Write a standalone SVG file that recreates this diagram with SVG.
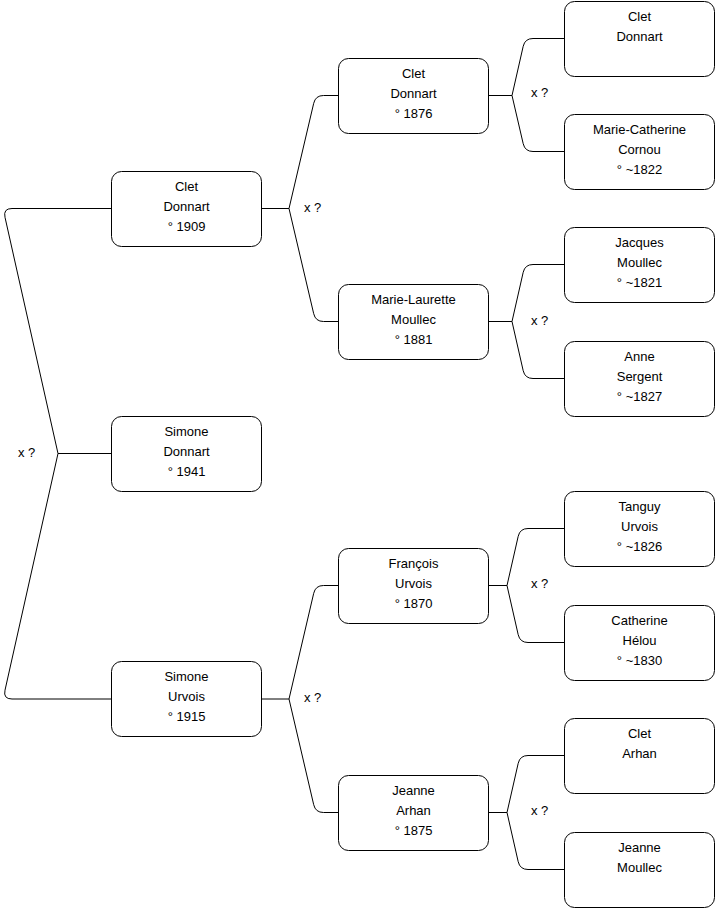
<svg xmlns="http://www.w3.org/2000/svg" width="716" height="908" viewBox="0 0 716 908">
<style>
.box{fill:#fff;stroke:#000;stroke-width:1}
.c{fill:none;stroke:#000;stroke-width:1}
text{font-family:"Liberation Sans",Arial,sans-serif;font-size:13px;fill:#000}
.t{text-anchor:middle}
</style>
<rect width="716" height="908" fill="#fff"/>
<g id="connectors">
<path class="c" d="M111,208.5 H12 Q3,208.5 5,217.3 L58,453.5 L5,690.2 Q3,699 12,699 H111 M58,453.5 H111"/>
<text x="18" y="457">x ?</text>
<path class="c" d="M262,208.5 H289 L313.7,103.3 Q315.5,95.5 323.5,95.5 H338 M289,208.5 L313.7,313.7 Q315.5,321.5 323.5,321.5 H338"/>
<text x="304" y="212">x ?</text>
<path class="c" d="M262,699 H289 L313.7,593.3 Q315.5,585.5 323.5,585.5 H338 M289,699 L313.7,804.7 Q315.5,812.5 323.5,812.5 H338"/>
<text x="304" y="702">x ?</text>
<path class="c" d="M489,95.5 H512 L523.2,46.3 Q525,38.5 533,38.5 H564 M512,95.5 L523.2,143.7 Q525,151.5 533,151.5 H564"/>
<text x="531" y="97">x ?</text>
<path class="c" d="M489,321.5 H512 L523.2,272.3 Q525,264.5 533,264.5 H564 M512,321.5 L523.2,370.7 Q525,378.5 533,378.5 H564"/>
<text x="531" y="325">x ?</text>
<path class="c" d="M489,585.5 H507 L518.2,536.3 Q520,528.5 528,528.5 H564 M507,585.5 L518.2,634.7 Q520,642.5 528,642.5 H564"/>
<text x="531" y="588">x ?</text>
<path class="c" d="M489,812.5 H507 L518.2,763.3 Q520,755.5 528,755.5 H564 M507,812.5 L518.2,861.7 Q520,869.5 528,869.5 H564"/>
<text x="531" y="815">x ?</text>
</g>
<g id="n_clet1909"><rect class="box" x="111.5" y="171.5" width="150" height="75" rx="10"/><text class="t" x="186.5" y="191">Clet</text><text class="t" x="186.5" y="211">Donnart</text><text class="t" x="186.5" y="231">° 1909</text></g>
<g id="n_simone1941"><rect class="box" x="111.5" y="416.5" width="150" height="75" rx="10"/><text class="t" x="186.5" y="436">Simone</text><text class="t" x="186.5" y="456">Donnart</text><text class="t" x="186.5" y="476">° 1941</text></g>
<g id="n_simone1915"><rect class="box" x="111.5" y="661.5" width="150" height="75" rx="10"/><text class="t" x="186.5" y="681">Simone</text><text class="t" x="186.5" y="701">Urvois</text><text class="t" x="186.5" y="721">° 1915</text></g>
<g id="n_clet1876"><rect class="box" x="338.5" y="58.5" width="150" height="75" rx="10"/><text class="t" x="413.5" y="78">Clet</text><text class="t" x="413.5" y="98">Donnart</text><text class="t" x="413.5" y="118">° 1876</text></g>
<g id="n_marielaurette"><rect class="box" x="338.5" y="284.5" width="150" height="75" rx="10"/><text class="t" x="413.5" y="304">Marie-Laurette</text><text class="t" x="413.5" y="324">Moullec</text><text class="t" x="413.5" y="344">° 1881</text></g>
<g id="n_francois"><rect class="box" x="338.5" y="548.5" width="150" height="75" rx="10"/><text class="t" x="413.5" y="568">François</text><text class="t" x="413.5" y="588">Urvois</text><text class="t" x="413.5" y="608">° 1870</text></g>
<g id="n_jeannearhan"><rect class="box" x="338.5" y="775.5" width="150" height="75" rx="10"/><text class="t" x="413.5" y="795">Jeanne</text><text class="t" x="413.5" y="815">Arhan</text><text class="t" x="413.5" y="835">° 1875</text></g>
<g id="n_cletdonnart"><rect class="box" x="564.5" y="1.5" width="150" height="75" rx="10"/><text class="t" x="639.5" y="21">Clet</text><text class="t" x="639.5" y="41">Donnart</text></g>
<g id="n_mariecatherine"><rect class="box" x="564.5" y="114.5" width="150" height="75" rx="10"/><text class="t" x="639.5" y="134">Marie-Catherine</text><text class="t" x="639.5" y="154">Cornou</text><text class="t" x="639.5" y="174">° ~1822</text></g>
<g id="n_jacques"><rect class="box" x="564.5" y="227.5" width="150" height="75" rx="10"/><text class="t" x="639.5" y="247">Jacques</text><text class="t" x="639.5" y="267">Moullec</text><text class="t" x="639.5" y="287">° ~1821</text></g>
<g id="n_anne"><rect class="box" x="564.5" y="341.5" width="150" height="75" rx="10"/><text class="t" x="639.5" y="361">Anne</text><text class="t" x="639.5" y="381">Sergent</text><text class="t" x="639.5" y="401">° ~1827</text></g>
<g id="n_tanguy"><rect class="box" x="564.5" y="491.5" width="150" height="75" rx="10"/><text class="t" x="639.5" y="511">Tanguy</text><text class="t" x="639.5" y="531">Urvois</text><text class="t" x="639.5" y="551">° ~1826</text></g>
<g id="n_catherine"><rect class="box" x="564.5" y="605.5" width="150" height="75" rx="10"/><text class="t" x="639.5" y="625">Catherine</text><text class="t" x="639.5" y="645">Hélou</text><text class="t" x="639.5" y="665">° ~1830</text></g>
<g id="n_cletarhan"><rect class="box" x="564.5" y="718.5" width="150" height="75" rx="10"/><text class="t" x="639.5" y="738">Clet</text><text class="t" x="639.5" y="758">Arhan</text></g>
<g id="n_jeannemoullec"><rect class="box" x="564.5" y="832.5" width="150" height="75" rx="10"/><text class="t" x="639.5" y="852">Jeanne</text><text class="t" x="639.5" y="872">Moullec</text></g>
</svg>
